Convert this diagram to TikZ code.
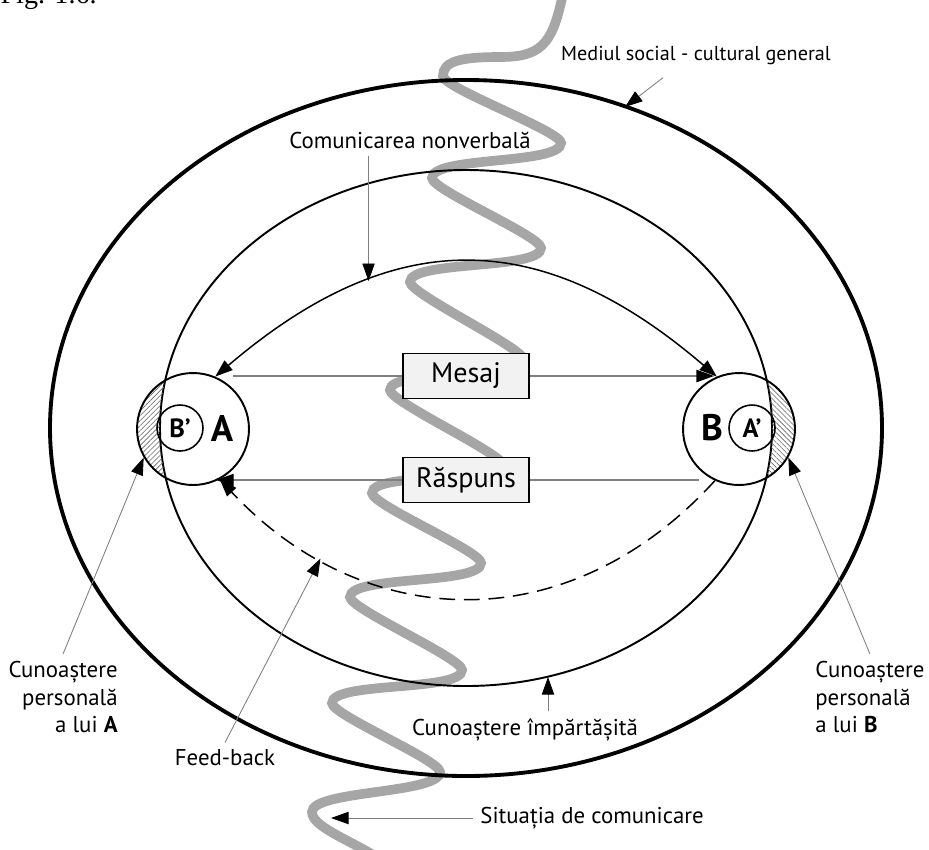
\documentclass[tikz,border=0pt]{standalone}
\usepackage{fontspec}
\setmainfont{PT Sans}
\newfontfamily\figfont{Liberation Serif}
\usetikzlibrary{arrows.meta,patterns.meta,calc,positioning}

\tikzset{
  bigtip/.tip={Triangle[length=10pt,width=7pt,color=black,fill=black]},
  pointer/.style={draw=gray, line width=0.5pt, -{bigtip}},
  msgline/.style={draw=gray, line width=0.7pt},
  lbl/.style={font=\fontsize{13}{15.6}\selectfont, inner sep=4pt},
  msgbox/.style={draw, line width=0.9pt, fill=gray!10, minimum width=2.52cm, minimum height=0.9cm, font=\fontsize{16}{18}\selectfont},
  person/.style={circle, draw, line width=1.1pt, minimum size=2.24cm, inner sep=0pt},
  imgcirc/.style={circle, draw, line width=0.9pt, minimum size=0.92cm, inner sep=0pt, font=\bfseries\fontsize{15}{15}\selectfont},
  letter/.style={font=\bfseries\fontsize{21}{21}\selectfont, inner sep=0pt}
}

\begin{document}
\begin{tikzpicture}[x=0.02cm,y=-0.02cm]
\useasboundingbox (0,0) rectangle (929,849);

\node[anchor=base east, inner sep=0pt, font=\figfont\fontsize{16}{16}\selectfont] (fig) at (97,3) {Fig. 1.6.};

% situatia de comunicare
\draw[gray!70, line width=5.5pt, line cap=round] (562,-2)
  .. controls (552,45) and (540,57) .. (500,57)
  .. controls (458,57) and (443,62) .. (443,76)
  .. controls (443,88) and (561,131) .. (561,143)
  .. controls (561,165) and (432,156) .. (432,178)
  .. controls (432,190) and (541,236) .. (541,248)
  .. controls (541,270) and (410,260) .. (410,282)
  .. controls (410,294) and (524,348) .. (524,360)
  .. controls (524,382) and (390,368) .. (390,390)
  .. controls (390,402) and (504,454) .. (504,466)
  .. controls (504,484) and (372,471) .. (372,493)
  .. controls (372,505) and (481,551) .. (481,563)
  .. controls (481,585) and (350,575) .. (350,597)
  .. controls (350,609) and (462,658) .. (462,670)
  .. controls (462,692) and (332,681) .. (332,703)
  .. controls (332,715) and (440,760) .. (440,772)
  .. controls (440,794) and (312,790) .. (312,812)
  .. controls (312,826) and (345,838) .. (375,856);

\coordinate (ctr) at (466,428);
\coordinate (ca) at (193,429);
\coordinate (cb) at (739,429);

\draw[line width=2.2pt] (ctr) ellipse (416 and 348);
\draw[line width=1.1pt] (ctr) ellipse (306 and 258);

% cunoastere personala
\begin{scope}
  \clip (ca) circle (56);
  \fill[pattern={Lines[angle=45,distance=2pt,line width=0.35pt]}, pattern color=gray!80!black, even odd rule]
    (100,340) rectangle (300,520) (ctr) ellipse (306 and 258);
\end{scope}
\begin{scope}
  \clip (cb) circle (56);
  \fill[pattern={Lines[angle=-45,distance=2pt,line width=0.35pt]}, pattern color=gray!80!black, even odd rule]
    (630,340) rectangle (830,520) (ctr) ellipse (306 and 258);
\end{scope}

\node[person] (A) at (ca) {};
\node[imgcirc] (Bimg) at (180,428) {B’};
\node[letter] (Aname) at (222,428) {A};
\node[person] (B) at (cb) {};
\node[imgcirc] (Aimg) at (752,428) {A’};
\node[letter] (Bname) at (712,428) {B};

\node[msgbox] (mesaj) at (466,376) {Mesaj};
\node[msgbox] (raspuns) at (466,480) {Răspuns};

\draw[line width=0.85pt, {bigtip}-{bigtip}] (A.67) .. controls (393,225) and (540,225) .. (B.113) coordinate[pos=0.3] (nvtip);
\draw[line width=0.85pt, dash pattern=on 9pt off 5pt, -{bigtip}] (B.-115) .. controls (565,645) and (360,630) .. (A.-62) coordinate[pos=0.78] (fbtip);

\draw[msgline] (mesaj.west) -- (A.north east |- mesaj.west);
\draw[msgline, -{bigtip}] (mesaj.east) -- (B.116 |- mesaj.east);
\draw[msgline] (B.south west |- raspuns.east) -- (raspuns.east);
\draw[msgline, -{bigtip}] (raspuns.west) -- (A.-66 |- raspuns.west);

% labels
\node[lbl, font=\fontsize{11.5}{14}\selectfont] (mediul) at (696,55) {Mediul social - cultural general};
\coordinate (mtip) at (625,107);
\draw[pointer] ($(mediul.south)+(-33,6)$) -- (mtip);

\node[lbl] (nonverb) at (410,140) {Comunicarea nonverbală};
\draw[pointer] (nvtip |- nonverb.south) -- (nvtip);

\node[lbl, align=right, anchor=east] (persA) at (125,697) {Cunoaștere\\personală\\a lui \textbf{A}};
\draw[pointer] (persA.north) -- (A.210);

\node[lbl, align=left, anchor=west] (persB) at (808,697) {Cunoaștere\\personală\\a lui \textbf{B}};
\draw[pointer] (persB.north) -- (B.-30);

\node[lbl] (feedb) at (225,758) {Feed-back};
\draw[pointer] (feedb.north) -- (fbtip);

\node[lbl] (shared) at (525,730) {Cunoaștere împărtășită};
\coordinate (shtip) at (548,677);
\draw[pointer] (shtip |- shared.north) -- (shtip);

\node[lbl, anchor=west] (situatia) at (473,818) {Situația de comunicare};
\coordinate (sittip) at (331,818);
\draw[pointer] (situatia.west) -- (sittip);
\end{tikzpicture}
\end{document}
